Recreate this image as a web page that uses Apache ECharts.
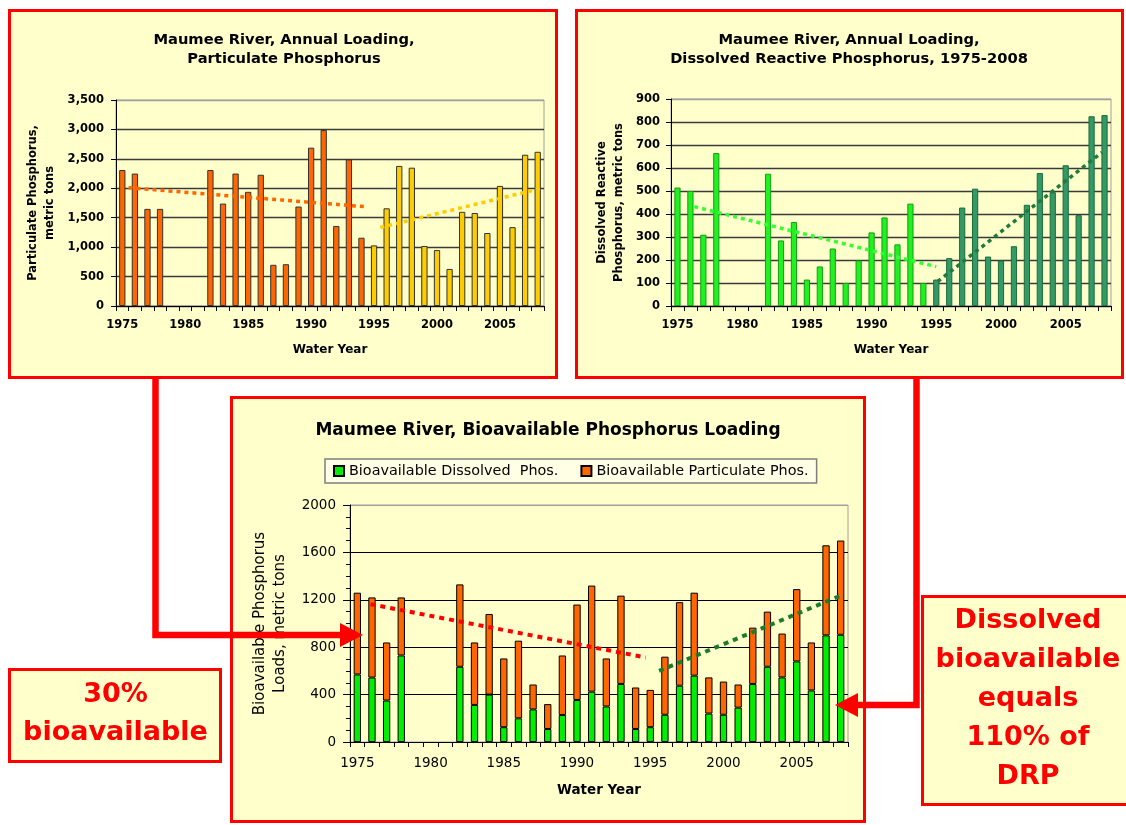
<!DOCTYPE html>
<html>
<head>
<meta charset="utf-8">
<script src="https://cdn.jsdelivr.net/npm/echarts@6/dist/echarts.min.js"></script>
<style>html,body{margin:0;padding:0;background:#fff}#c{width:1126px;height:825px}</style>
</head>
<body>
<div id="c"></div>
<script>
// ---------- data ----------
const years = ['1975','1976','1977','1978','1979','1980','1981','1982','1983','1984','1985','1986','1987','1988','1989','1990','1991','1992','1993','1994','1995','1996','1997','1998','1999','2000','2001','2002','2003','2004','2005','2006','2007','2008'];
const splitYear = '1995';
// Particulate phosphorus, metric tons
const particulate = [2310,2250,1650,1650,null,null,null,2310,1740,2250,1940,2230,700,710,1690,2690,2990,1360,2490,1160,1030,1660,2380,2350,1020,950,630,1600,1580,1240,2040,1340,2570,2620];
// Dissolved reactive phosphorus, metric tons
const drp = [515,500,310,665,null,null,null,575,285,365,115,172,250,100,198,320,385,268,445,100,115,208,428,510,215,198,260,440,578,495,612,395,825,830];
// Bioavailable loads, metric tons
const bioDissolved = [570,544,350,730,null,null,null,635,313,400,125,200,275,110,228,355,425,300,490,110,125,230,475,560,240,230,290,490,635,545,680,435,900,905];
const bioParticulate = [690,676,490,490,null,null,null,695,527,680,580,655,210,210,502,805,895,405,745,350,315,490,705,700,305,280,195,475,465,370,610,405,760,795];
// Trend line end points [year, value]
const trendPartEarly = [[1975.5, 2010], [1994.4, 1685]];
const trendPartLate = [[1995.5, 1335], [2008.3, 2000]];
const trendDrpEarly = [[1976.3, 432], [1995.0, 171]];
const trendDrpLate = [[1995.1, 106], [2007.8, 668]];
const trendBioEarly = [[1975.9, 1163], [1994.7, 713]];
const trendBioLate = [[1995.6, 600], [2008.2, 1245]];
// Text
const titles = ['Maumee River, Annual Loading,\nParticulate Phosphorus', 'Maumee River, Annual Loading,\nDissolved Reactive Phosphorus, 1975-2008', 'Maumee River, Bioavailable Phosphorus Loading'];
const legendNames = ['Bioavailable Dissolved  Phos.', 'Bioavailable Particulate Phos.'];
const noteLeft = '30%\nbioavailable';
const noteRight = 'Dissolved\nbioavailable\nequals\n110% of\nDRP';

// ---------- chart ----------
const FF = 'DejaVu Sans';
const splitIdx = years.indexOf(splitYear);
const fmtComma = v => String(v).replace(/\B(?=(\d{3})+(?!\d))/g, ',');
const fmtPlain = v => String(v);

const partStyleEarly = { color: '#FF6600', borderColor: '#333', borderWidth: 1 };
const partStyleLate = { color: '#FFCC00', borderColor: '#333', borderWidth: 1 };
const drpStyleEarly = { color: '#22F022', borderColor: '#10A010', borderWidth: 1 };
const drpStyleLate = { color: '#339966', borderColor: '#1d6b3d', borderWidth: 1 };
const partItems = particulate.map((v, i) => ({ value: v, itemStyle: i < splitIdx ? partStyleEarly : partStyleLate }));
const drpItems = drp.map((v, i) => ({ value: v, itemStyle: i < splitIdx ? drpStyleEarly : drpStyleLate }));

function catAxis(gi, bold, fs, margin, gap, nfs) {
  return {
    type: 'category', gridIndex: gi, data: years, boundaryGap: true,
    axisLine: { lineStyle: { color: '#000', width: 1 } },
    axisTick: { show: true, interval: 0, length: 5, lineStyle: { color: '#000' } },
    axisLabel: { interval: 4, margin: margin, fontFamily: FF, fontWeight: bold ? 'bold' : 'normal', fontSize: fs, color: '#000' },
    name: 'Water Year', nameLocation: 'middle', nameGap: gap,
    nameTextStyle: { fontFamily: FF, fontWeight: 'bold', fontSize: nfs, color: '#000' }
  };
}
function valX(gi) { return { type: 'value', gridIndex: gi, min: 1974.5, max: 2008.5, show: false }; }

const chart = echarts.init(document.getElementById('c'), null, { renderer: 'canvas' });
const dark = '#3a3a3a', light = '#a0a0a0';

chart.setOption({
  backgroundColor: '#ffffff',
  animation: false,
  title: [
    { text: titles[0], left: 284, top: 31, textAlign: 'center', padding: 0,
      textStyle: { fontFamily: FF, fontWeight: 'bold', fontSize: 14.7, lineHeight: 19, color: '#000' } },
    { text: titles[1], left: 849, top: 31, textAlign: 'center', padding: 0,
      textStyle: { fontFamily: FF, fontWeight: 'bold', fontSize: 14.7, lineHeight: 19, color: '#000' } },
    { text: titles[2], left: 548, top: 421, textAlign: 'center', padding: 0,
      textStyle: { fontFamily: FF, fontWeight: 'bold', fontSize: 17, lineHeight: 20, color: '#000' } }
  ],
  legend: {
    data: legendNames, left: 325, top: 459, orient: 'horizontal',
    itemWidth: 10, itemHeight: 10, itemGap: 22, padding: [5, 8],
    borderColor: '#7f7f7f', borderWidth: 1.5, backgroundColor: '#FFFFE6',
    icon: 'rect', selectedMode: false,
    textStyle: { fontFamily: FF, fontSize: 14.4, color: '#000' }
  },
  grid: [
    { left: 116, top: 100, width: 428, height: 206, show: true, borderColor: light, borderWidth: 1, backgroundColor: 'transparent' },
    { left: 671, top: 99, width: 440, height: 207, show: true, borderColor: light, borderWidth: 1, backgroundColor: 'transparent' },
    { left: 350, top: 505, width: 498, height: 237, show: true, borderColor: light, borderWidth: 1, backgroundColor: 'transparent' }
  ],
  xAxis: [
    catAxis(0, true, 11.5, 13, 38, 12), valX(0),
    catAxis(1, true, 11.5, 13, 38, 12), valX(1),
    catAxis(2, false, 13.5, 14, 41, 13.5), valX(2)
  ],
  yAxis: [
    { type: 'value', gridIndex: 0, min: 0, max: 3500, interval: 500,
      axisLine: { show: true, lineStyle: { color: '#000' } },
      axisTick: { show: true, length: 5, lineStyle: { color: '#000' } },
      axisLabel: { formatter: fmtComma, margin: 12, fontFamily: FF, fontWeight: 'bold', fontSize: 11.5, color: '#000' },
      splitLine: { lineStyle: { color: [dark, dark, dark, dark, dark, dark, dark, light], width: 1.3 } },
      name: 'Particulate Phosphorus,\nmetric tons', nameLocation: 'middle', nameRotate: 90, nameGap: 58,
      nameTextStyle: { fontFamily: FF, fontWeight: 'bold', fontSize: 11.5, lineHeight: 16.5, color: '#000' } },
    { type: 'value', gridIndex: 1, min: 0, max: 900, interval: 100,
      axisLine: { show: true, lineStyle: { color: '#000' } },
      axisTick: { show: true, length: 5, lineStyle: { color: '#000' } },
      axisLabel: { formatter: fmtPlain, margin: 11, fontFamily: FF, fontWeight: 'bold', fontSize: 11.5, color: '#000' },
      splitLine: { lineStyle: { color: [dark, dark, dark, dark, dark, dark, dark, dark, dark, light], width: 1.3 } },
      name: 'Dissolved Reactive\nPhosphorus, metric tons', nameLocation: 'middle', nameRotate: 90, nameGap: 43,
      nameTextStyle: { fontFamily: FF, fontWeight: 'bold', fontSize: 11.5, lineHeight: 17, color: '#000' } },
    { type: 'value', gridIndex: 2, min: 0, max: 2000, interval: 400,
      axisLine: { show: true, lineStyle: { color: '#000' } },
      axisTick: { show: true, length: 7, lineStyle: { color: '#000' } },
      minorTick: { show: true, splitNumber: 4, length: 4, lineStyle: { color: '#000' } },
      axisLabel: { formatter: fmtPlain, margin: 14, fontFamily: FF, fontSize: 13.5, color: '#000' },
      splitLine: { lineStyle: { color: ['#000', '#000', '#000', '#000', '#000', light], width: 1 } },
      name: 'Bioavailable Phosphorus\nLoads, metric tons', nameLocation: 'middle', nameRotate: 90, nameGap: 60,
      nameTextStyle: { fontFamily: FF, fontSize: 15, lineHeight: 20, color: '#000' } }
  ],
  series: [
    { type: 'bar', xAxisIndex: 0, yAxisIndex: 0, data: partItems, barWidth: '50%' },
    { type: 'line', xAxisIndex: 1, yAxisIndex: 0, data: trendPartEarly, symbol: 'none', silent: true, z: 5,
      lineStyle: { color: '#FF6600', width: 3.5, type: [4, 4] } },
    { type: 'line', xAxisIndex: 1, yAxisIndex: 0, data: trendPartLate, symbol: 'none', silent: true, z: 5,
      lineStyle: { color: '#FFCC00', width: 3.5, type: [4, 4] } },

    { type: 'bar', xAxisIndex: 2, yAxisIndex: 1, data: drpItems, barWidth: '48%' },
    { type: 'line', xAxisIndex: 3, yAxisIndex: 1, data: trendDrpEarly, symbol: 'none', silent: true, z: 5,
      lineStyle: { color: '#33FF33', width: 3.5, type: [4, 4] } },
    { type: 'line', xAxisIndex: 3, yAxisIndex: 1, data: trendDrpLate, symbol: 'none', silent: true, z: 5,
      lineStyle: { color: '#1E7B3C', width: 3.5, type: [4, 4] } },

    { name: legendNames[0], type: 'bar', stack: 'bio', xAxisIndex: 4, yAxisIndex: 2, data: bioDissolved, barWidth: '50%',
      itemStyle: { color: '#00EE00', borderColor: '#000', borderWidth: 1 } },
    { name: legendNames[1], type: 'bar', stack: 'bio', xAxisIndex: 4, yAxisIndex: 2, data: bioParticulate, barWidth: '50%',
      itemStyle: { color: '#FF6600', borderColor: '#000', borderWidth: 1 } },
    { type: 'line', xAxisIndex: 5, yAxisIndex: 2, data: trendBioEarly, symbol: 'none', silent: true, z: 5,
      lineStyle: { color: '#FF0000', width: 4, type: [5, 5] } },
    { type: 'line', xAxisIndex: 5, yAxisIndex: 2, data: trendBioLate, symbol: 'none', silent: true, z: 5,
      lineStyle: { color: '#1E7B2C', width: 4, type: [5, 5] } }
  ],
  graphic: { elements: [
    { type: 'rect', z: -10, shape: { x: 9.5, y: 10.5, width: 547, height: 367 }, style: { fill: '#FFFFCC', stroke: '#FF0000', lineWidth: 3 } },
    { type: 'rect', z: -10, shape: { x: 576.5, y: 10.5, width: 546, height: 367 }, style: { fill: '#FFFFCC', stroke: '#FF0000', lineWidth: 3 } },
    { type: 'rect', z: -10, shape: { x: 231.5, y: 397.5, width: 633, height: 424 }, style: { fill: '#FFFFCC', stroke: '#FF0000', lineWidth: 3 } },
    { type: 'rect', z: 50, shape: { x: 9.5, y: 669.5, width: 211, height: 92 }, style: { fill: '#FFFFCC', stroke: '#FF0000', lineWidth: 3 } },
    { type: 'rect', z: 50, shape: { x: 922.5, y: 596.5, width: 220, height: 208 }, style: { fill: '#FFFFCC', stroke: '#FF0000', lineWidth: 3 } },
    { type: 'text', z: 60, x: 115.5, y: 714, style: { text: noteLeft, fill: '#FF0000', font: 'bold 27px "DejaVu Sans"', align: 'center', verticalAlign: 'middle', lineHeight: 38 } },
    { type: 'text', z: 60, x: 1028, y: 699, style: { text: noteRight, fill: '#FF0000', font: 'bold 27px "DejaVu Sans"', align: 'center', verticalAlign: 'middle', lineHeight: 39 } },
    { type: 'polyline', z: 100, shape: { points: [[155.5, 377], [155.5, 635], [342, 635]] }, style: { stroke: '#FF0000', lineWidth: 6.5, fill: null, lineJoin: 'miter' } },
    { type: 'polygon', z: 100, shape: { points: [[340, 623], [363, 635], [340, 647]] }, style: { fill: '#FF0000' } },
    { type: 'polyline', z: 100, shape: { points: [[916.5, 377], [916.5, 705], [856, 705]] }, style: { stroke: '#FF0000', lineWidth: 6.5, fill: null, lineJoin: 'miter' } },
    { type: 'polygon', z: 100, shape: { points: [[858, 693], [835, 705], [858, 717]] }, style: { fill: '#FF0000' } }
  ] }
});
</script>
</body>
</html>
